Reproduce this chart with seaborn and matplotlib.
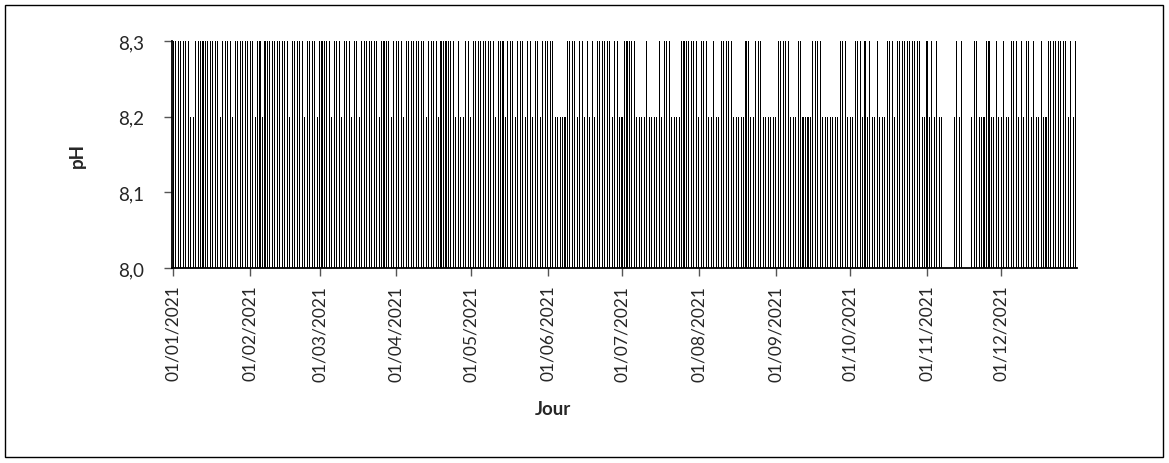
import numpy as np
import pandas as pd
import matplotlib
matplotlib.use("Agg")
import matplotlib.pyplot as plt
import seaborn as sns
from matplotlib.patches import Rectangle

# daily pH readings, one character per day: '3' = 8,3  '2' = 8,2  '.' = no reading
jan = "3333333223333333333233332333333"
feb = "3323323333333333233333233332"
mar = "3333323332333233233333332333323"
apr = "333233333333233332333333232233"
may = "2333333333233323332333233233233"
jun = "333222223333233232323333332332"
jul = "2333332222322223233322223333333"
aug = "2333223223333322222332233322222"
sep = "233333222332222333322222223332"
oct_ = "2233323232232223332333333333322"
nov = "3232322....2323...233222332232"
dec = "2322333232332322322333333332323"

months = [jan, feb, mar, apr, may, jun, jul, aug, sep, oct_, nov, dec]
month_labels = ["01/01/2021", "01/02/2021", "01/03/2021", "01/04/2021",
                "01/05/2021", "01/06/2021", "01/07/2021", "01/08/2021",
                "01/09/2021", "01/10/2021", "01/11/2021", "01/12/2021"]
code_value = {"3": 8.3, "2": 8.2, ".": np.nan}
y_ticks = [8.0, 8.1, 8.2, 8.3]
y_labels = ["8,0", "8,1", "8,2", "8,3"]

codes = "".join(months)
df = pd.DataFrame({"day": np.arange(len(codes)),
                   "ph": [code_value[c] for c in codes]}).dropna()
month_start = np.cumsum([0] + [len(m) for m in months[:-1]])

sns.set_theme(style="white")
plt.rcParams["font.family"] = ["Lato", "DejaVu Sans"]

W, H = 1169, 464
fig = plt.figure(figsize=(W / 100, H / 100), dpi=100)
ax = fig.add_axes([172 / W, 1 - 269 / H, (1077 - 172) / W, (269 - 42) / H])

sns.barplot(data=df, x="day", y="ph", native_scale=True, color="black",
            width=0.42, linewidth=0, saturation=1, errorbar=None, ax=ax)
for bar in ax.patches:
    bar.set_antialiased(False)

ax.set_xlim(-0.5, len(codes) - 0.5)
ax.set_ylim(8.0, 8.3)
ax.set_yticks(y_ticks)
ax.set_yticklabels(y_labels, fontsize=13.5)
ax.set_xticks(month_start)
ax.set_xticklabels(month_labels, rotation=90, fontsize=12.5)
ax.set_xlabel("")
ax.set_ylabel("")
ax.tick_params(axis="y", direction="out", length=6, width=1, color="#555555", pad=14, left=True)
ax.tick_params(axis="x", direction="out", length=6, width=1, color="#555555", pad=6, bottom=True)
for side in ["top", "right"]:
    ax.spines[side].set_visible(False)
for side in ["left", "bottom"]:
    ax.spines[side].set_color("black")
    ax.spines[side].set_linewidth(1.3)

fig.text(77 / W, 1 - 155 / H, "pH", rotation=90, fontsize=13.5, fontweight="bold",
         ha="center", va="center")
fig.text(553 / W, 1 - 410 / H, "Jour", fontsize=13.5, fontweight="bold",
         ha="center", va="center")

fig.patches.append(Rectangle((5 / W, 6 / H), (1163 - 5) / W, (458 - 6) / H,
                             transform=fig.transFigure, fill=False,
                             edgecolor="black", linewidth=1))

fig.savefig("out.png", dpi=100)
